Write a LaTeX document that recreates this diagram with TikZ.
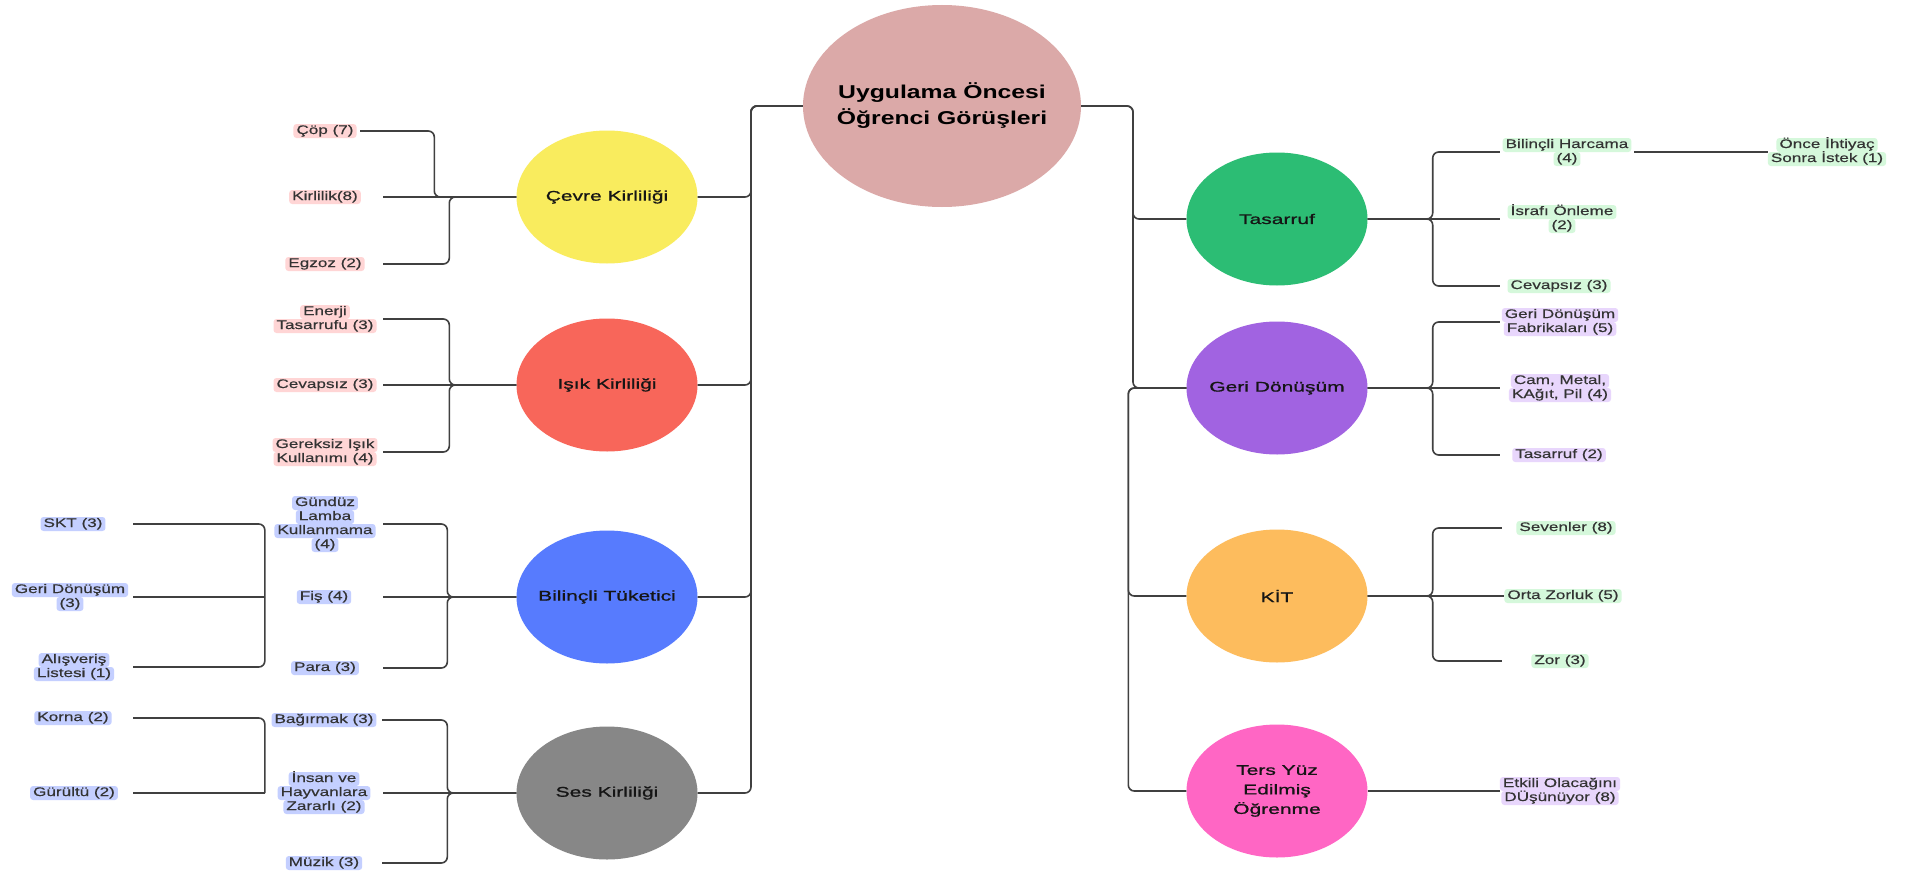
\documentclass[tikz,border=0pt]{standalone}
\usepackage{fontspec}
\setmainfont{Liberation Sans}
\newfontfamily\leaffont[FakeStretch=1.38,FakeBold=0.4]{Liberation Sans}
\newfontfamily\catfont[FakeStretch=1.5,FakeBold=1]{Liberation Sans}
\newfontfamily\rootfont[FakeStretch=1.33]{Liberation Sans}
\usetikzlibrary{shapes.geometric}

% bubble colours
\definecolor{rootC}{HTML}{DBA9A8}
\definecolor{yelC}{HTML}{F9EC5E}
\definecolor{redC}{HTML}{F8665A}
\definecolor{bluC}{HTML}{577BFE}
\definecolor{grayC}{HTML}{878787}
\definecolor{grnC}{HTML}{2CBD74}
\definecolor{purC}{HTML}{A163E1}
\definecolor{orgC}{HTML}{FDBC5D}
\definecolor{pnkC}{HTML}{FF66C4}
% label highlight colours
\definecolor{pinkL}{HTML}{FFD5D5}
\definecolor{blueL}{HTML}{C4CFFF}
\definecolor{greenL}{HTML}{D5F8DB}
\definecolor{purpleL}{HTML}{E8D6FC}
% line and text colours
\definecolor{lineC}{HTML}{404040}
\definecolor{leafC}{HTML}{333333}
\definecolor{catC}{HTML}{151515}

\newcommand\leafsize{\leaffont\fontsize{12.4}{14}\selectfont\lineskiplimit=-20pt\relax}
\newcommand\catsize{\catfont\fontsize{14}{19.5}\selectfont\lineskiplimit=-20pt\relax}
\newcommand\rootsize{\rootfont\bfseries\fontsize{18.6}{26}\selectfont\lineskiplimit=-20pt\relax}

% one highlighted line of a label
\newcommand\hlc{white}
\newcommand\hl[1]{\tikz[baseline=(hlb.base)]\node[shape=rectangle,fill=\hlc,draw=none,
  rounded corners=3pt,inner xsep=3pt,inner ysep=0pt,outer sep=0pt,minimum width=0pt,
  minimum height=0pt,text height=10pt,text depth=4pt,anchor=base](hlb){#1};}

\tikzset{
  conn/.style={draw=lineC, line width=1.6pt, rounded corners=6pt},
  bubble/.style={ellipse, fill=#1, draw=none, inner sep=0pt, minimum width=181pt,
    minimum height=133pt},
  cattext/.style={font=\catsize, text=catC, align=center, inner sep=0pt},
  roottext/.style={font=\rootsize, text=black, align=center, inner sep=0pt},
  leaf/.style={shape=rectangle, inner sep=0pt, minimum width=116pt, minimum height=14pt,
    align=center, font=\leafsize, text=leafC, execute at begin node={\def\hlc{#1}}},
}

\begin{document}
\begin{tikzpicture}[x=1pt,y=-1pt]
\fill[white] (0,0) rectangle (1914,875);
\useasboundingbox (0,0) rectangle (1914,875);

% centre
\node[bubble=rootC, minimum width=278pt, minimum height=202pt,
  label={[roottext]center:{Uygulama Öncesi\\Öğrenci Görüşleri}}] (root) at (942,106) {};

% main branches
\node[bubble=yelC, label={[cattext]center:Çevre Kirliliği}] (cevre) at (607,197) {};
\node[bubble=redC, label={[cattext]center:Işık Kirliliği}] (isik) at (607,385) {};
\node[bubble=bluC, label={[cattext]center:Bilinçli Tüketici}] (bilincli) at (607,597) {};
\node[bubble=grayC, label={[cattext]center:Ses Kirliliği}] (ses) at (607,793) {};
\node[bubble=grnC, label={[cattext]center:Tasarruf}] (tas) at (1277,219) {};
\node[bubble=purC, label={[cattext]center:Geri Dönüşüm}] (geri) at (1277,388) {};
\node[bubble=orgC, label={[cattext]center:KİT}] (kit) at (1277,596) {};
\node[bubble=pnkC, label={[cattext]center:{Ters Yüz\\Edilmiş\\Öğrenme}}] (ters) at (1277,791) {};

% Çevre Kirliliği
\node[leaf=pinkL, minimum width=70pt] (cop) at (325,131) {\hl{Çöp (7)}};
\node[leaf=pinkL] (kirlilik) at (325,197) {\hl{Kirlilik(8)}};
\node[leaf=pinkL] (egzoz) at (325,264) {\hl{Egzoz (2)}};
% Işık Kirliliği
\node[leaf=pinkL] (enerji) at (325,319) {\hl{Enerji}\\\hl{Tasarrufu (3)}};
\node[leaf=pinkL] (cevapsizA) at (325,385) {\hl{Cevapsız (3)}};
\node[leaf=pinkL] (gereksiz) at (325,452) {\hl{Gereksiz Işık}\\\hl{Kullanımı (4)}};
% Bilinçli Tüketici
\node[leaf=blueL] (gunduz) at (325,524) {\hl{Gündüz}\\\hl{Lamba}\\\hl{Kullanmama}\\\hl{(4)}};
\node[leaf=blueL, minimum width=118pt] (fis) at (324,597) {\hl{Fiş (4)}};
\node[leaf=blueL] (para) at (325,668) {\hl{Para (3)}};
\node[leaf=blueL, minimum width=120pt] (skt) at (73,524) {\hl{SKT (3)}};
\node[leaf=blueL, minimum width=126pt] (geriA) at (70,597) {\hl{Geri Dönüşüm}\\\hl{(3)}};
\node[leaf=blueL, minimum width=118pt] (alis) at (74,667) {\hl{Alışveriş}\\\hl{Listesi (1)}};
% Ses Kirliliği
\node[leaf=blueL] (bagir) at (324,720) {\hl{Bağırmak (3)}};
\node[leaf=blueL, minimum width=118pt] (insan) at (324,793) {\hl{İnsan ve}\\\hl{Hayvanlara}\\\hl{Zararlı (2)}};
\node[leaf=blueL] (muzik) at (324,863) {\hl{Müzik (3)}};
\node[leaf=blueL, minimum width=120pt] (korna) at (73,718) {\hl{Korna (2)}};
\node[leaf=blueL, minimum width=118pt] (gurultu) at (74,793) {\hl{Gürültü (2)}};

% Tasarruf
\node[leaf=greenL, minimum width=134pt] (harcama) at (1567,152) {\hl{Bilinçli Harcama}\\\hl{(4)}};
\node[leaf=greenL, minimum width=118pt] (once) at (1827,152) {\hl{Önce İhtiyaç}\\\hl{Sonra İstek (1)}};
\node[leaf=greenL, minimum width=124pt] (israf) at (1562,219) {\hl{İsrafı Önleme}\\\hl{(2)}};
\node[leaf=greenL, minimum width=118pt] (cevapsizB) at (1559,286) {\hl{Cevapsız (3)}};
% Geri Dönüşüm
\node[leaf=purpleL, minimum width=120pt] (fabrika) at (1560,322) {\hl{Geri Dönüşüm}\\\hl{Fabrikaları (5)}};
\node[leaf=purpleL, minimum width=120pt] (cam) at (1560,388) {\hl{Cam, Metal,}\\\hl{KAğıt, Pil (4)}};
\node[leaf=purpleL, minimum width=118pt] (tasB) at (1559,455) {\hl{Tasarruf (2)}};
% KİT
\node[leaf=greenL, minimum width=128pt] (sevenler) at (1566,528) {\hl{Sevenler (8)}};
\node[leaf=greenL, minimum width=116pt] (orta) at (1563,596) {\hl{Orta Zorluk (5)}};
\node[leaf=greenL, minimum width=116pt] (zor) at (1560,661) {\hl{Zor (3)}};
% Ters Yüz Edilmiş Öğrenme
\node[leaf=purpleL, minimum width=120pt] (etkili) at (1560,791) {\hl{Etkili Olacağını}\\\hl{DÜşünüyor (8)}};

% trunks from the centre
\coordinate (Ltr) at (751,106);
\coordinate (Rtr) at (1133,106);
\foreach \c in {cevre,isik,bilincli,ses}
  \draw[conn] (root.west) -- (Ltr) |- (\c.east);
\foreach \c in {tas,geri}
  \draw[conn] (root.east) -- (Rtr) |- (\c.west);
\foreach \c in {kit,ters}
  \draw[conn] (geri.west) -- ++(-58,0) |- (\c.west);

% left branches
\draw[conn] (cevre.west) -- ++(-82,0) |- (cop.east);
\draw[conn] (cevre.west) -- (kirlilik.east);
\draw[conn] (cevre.west) -- ++(-67,0) |- (egzoz.east);

\draw[conn] (isik.west) -- ++(-67,0) |- (enerji.east);
\draw[conn] (isik.west) -- (cevapsizA.east);
\draw[conn] (isik.west) -- ++(-67,0) |- (gereksiz.east);

\draw[conn] (bilincli.west) -- ++(-69,0) |- (gunduz.east);
\draw[conn] (bilincli.west) -- (fis.east);
\draw[conn] (bilincli.west) -- ++(-69,0) |- (para.east);
\draw[conn] (fis.west) |- (skt.east);
\draw[conn] (fis.west) -- (geriA.east);
\draw[conn] (fis.west) |- (alis.east);

\draw[conn] (ses.west) -- ++(-69,0) |- (bagir.east);
\draw[conn] (ses.west) -- (insan.east);
\draw[conn] (ses.west) -- ++(-69,0) |- (muzik.east);
\draw[conn] (insan.west) |- (korna.east);
\draw[conn] (insan.west) -- (gurultu.east);

% right branches
\draw[conn] (tas.east) -- ++(65,0) |- (harcama.west);
\draw[conn] (tas.east) -- (israf.west);
\draw[conn] (tas.east) -- ++(65,0) |- (cevapsizB.west);
\draw[conn] (harcama.east) -- (once.west);

\draw[conn] (geri.east) -- ++(65,0) |- (fabrika.west);
\draw[conn] (geri.east) -- (cam.west);
\draw[conn] (geri.east) -- ++(65,0) |- (tasB.west);

\draw[conn] (kit.east) -- ++(65,0) |- (sevenler.west);
\draw[conn] (kit.east) -- (orta.west);
\draw[conn] (kit.east) -- ++(65,0) |- (zor.west);

\draw[conn] (ters.east) -- (etkili.west);
\end{tikzpicture}
\end{document}
